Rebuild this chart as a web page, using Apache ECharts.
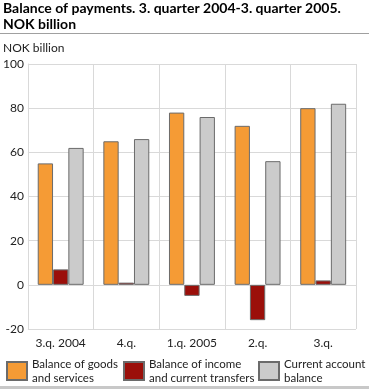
<!DOCTYPE html>
<html><head><meta charset="utf-8">
<script src="https://cdn.jsdelivr.net/npm/echarts@6/dist/echarts.min.js"></script>
<style>html,body{margin:0;padding:0;background:#fff}#c{width:369px;height:389px}</style>
</head><body><div id="c"></div>
<script>
const categories = ['3.q. 2004', '4.q.', '1.q. 2005', '2.q.', '3.q.'];
const goodsServices = [55, 65, 78, 72, 80];
const incomeTransfers = [7, 1, -5, -16, 2];
const currentAccount = [62, 66, 76, 56, 82];
const seriesNames = ['Balance of goods and services', 'Balance of income and current transfers', 'Current account balance'];
const legendLabels = ['Balance of goods\nand services', 'Balance of income\nand current transfers', 'Current account\nbalance'];

const FONT = 'Lato, "Open Sans", sans-serif';
const colors = ['#f59b35', '#9b0f0a', '#cbcbcb'];
const chart = echarts.init(document.getElementById('c'));
const mk = (name, data, i) => ({
  name, type: 'bar', data, barGap: '0%', barCategoryGap: '30%',
  itemStyle: {color: colors[i], borderColor: '#6b6b6b', borderWidth: 1},
  emphasis: {disabled: true}
});
const legendPos = [6, 123, 258];
chart.setOption({
  animation: false,
  textStyle: {fontFamily: FONT},
  title: {
    text: 'Balance of payments. 3. quarter 2004-3. quarter 2005.\nNOK billion',
    left: 3, top: 0, padding: 0,
    textStyle: {fontFamily: FONT, fontWeight: 'bold', fontSize: 14, lineHeight: 16, color: '#000'}
  },
  graphic: [
    {type: 'rect', shape: {x: 0, y: 33, width: 369, height: 1}, style: {fill: '#a0a0a0', stroke: null}},
    {type: 'rect', shape: {x: 0, y: 386, width: 369, height: 3}, style: {fill: '#c8c8c8', stroke: null}},
    {type: 'text', left: 3, top: 42, style: {text: 'NOK billion', font: '12px ' + FONT, fill: '#222'}}
  ],
  legend: seriesNames.map((n, i) => ({
    data: [n], left: legendPos[i], top: 356, padding: 0, itemWidth: 20, itemHeight: 18, itemGap: 0,
    icon: 'rect', selectedMode: false,
    formatter: () => legendLabels[i],
    textStyle: {fontFamily: FONT, fontSize: 11.5, lineHeight: 14, color: '#222', padding: [2, 0, 0, 0]}
  })),
  grid: {left: 25, right: 13, top: 64, bottom: 60, containLabel: false},
  xAxis: {
    type: 'category', data: categories,
    axisLine: {show: false}, axisTick: {show: false},
    splitLine: {show: true, lineStyle: {color: '#d9d9d9'}},
    axisLabel: {fontFamily: FONT, fontSize: 12, color: '#222', margin: 8, interval: 0}
  },
  yAxis: {
    type: 'value', min: -20, max: 100, interval: 20,
    axisLine: {show: true, lineStyle: {color: '#d9d9d9'}}, axisTick: {show: false},
    splitLine: {lineStyle: {color: '#d9d9d9'}},
    axisLabel: {fontFamily: FONT, fontSize: 12, color: '#222', margin: 4}
  },
  series: [
    mk(seriesNames[0], goodsServices, 0),
    mk(seriesNames[1], incomeTransfers, 1),
    mk(seriesNames[2], currentAccount, 2)
  ]
});
</script></body></html>
